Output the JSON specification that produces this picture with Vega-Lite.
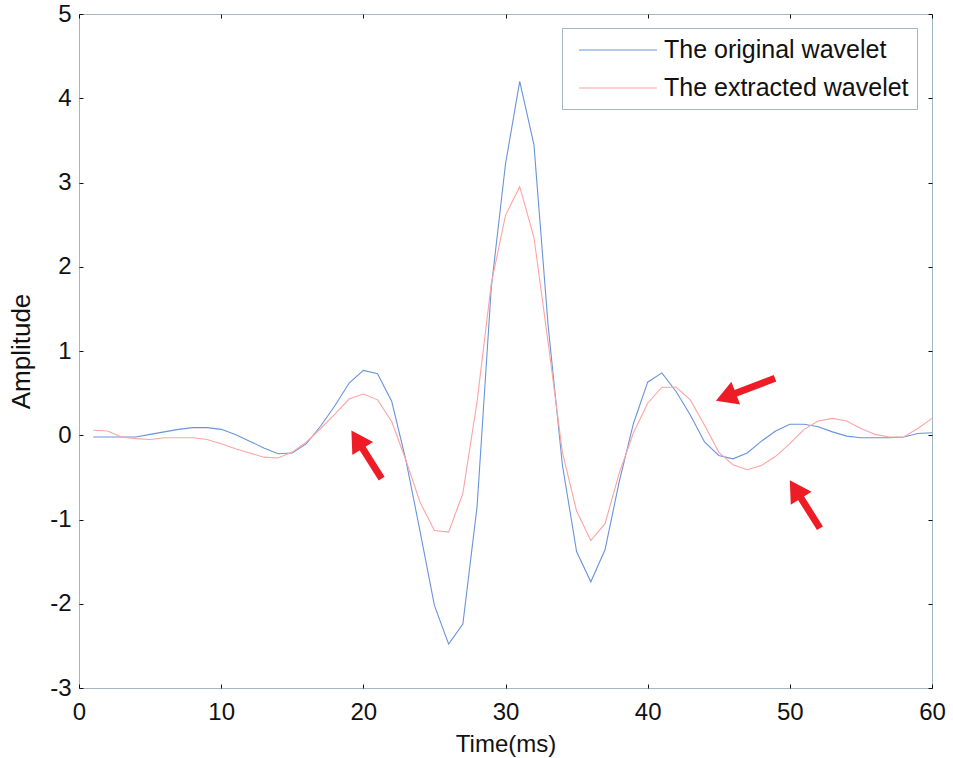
{
  "$schema": "https://vega.github.io/schema/vega-lite/v6.json",
  "width": 853,
  "height": 674,
  "autosize": {"type": "none"},
  "padding": {"left": 79, "top": 14, "right": 21, "bottom": 70},
  "background": "white",
  "config": {
    "font": "Liberation Sans",
    "view": {"stroke": "#a3b6c2", "strokeWidth": 1},
    "axis": {
      "grid": false,
      "domain": false,
      "tickColor": "#111111",
      "tickWidth": 1,
      "tickSize": -4,
      "labelFont": "Liberation Sans",
      "labelFontSize": 24,
      "labelColor": "#111111",
      "titleFont": "Liberation Sans",
      "titleFontSize": 24,
      "titleFontWeight": "normal",
      "titleColor": "#111111",
      "labelFlush": false,
      "labelOverlap": false
    },
    "legend": {
      "labelFont": "Liberation Sans",
      "labelFontSize": 25,
      "labelColor": "#111111",
      "labelLimit": 500
    }
  },
  "datasets": {
    "wave": [
      {"t": 1, "amp": -0.02, "series": "The original wavelet"},
      {"t": 2, "amp": -0.02, "series": "The original wavelet"},
      {"t": 3, "amp": -0.02, "series": "The original wavelet"},
      {"t": 4, "amp": -0.02, "series": "The original wavelet"},
      {"t": 5, "amp": 0.01, "series": "The original wavelet"},
      {"t": 6, "amp": 0.04, "series": "The original wavelet"},
      {"t": 7, "amp": 0.07, "series": "The original wavelet"},
      {"t": 8, "amp": 0.09, "series": "The original wavelet"},
      {"t": 9, "amp": 0.09, "series": "The original wavelet"},
      {"t": 10, "amp": 0.07, "series": "The original wavelet"},
      {"t": 11, "amp": 0.01, "series": "The original wavelet"},
      {"t": 12, "amp": -0.07, "series": "The original wavelet"},
      {"t": 13, "amp": -0.15, "series": "The original wavelet"},
      {"t": 14, "amp": -0.22, "series": "The original wavelet"},
      {"t": 15, "amp": -0.21, "series": "The original wavelet"},
      {"t": 16, "amp": -0.1, "series": "The original wavelet"},
      {"t": 17, "amp": 0.11, "series": "The original wavelet"},
      {"t": 18, "amp": 0.35, "series": "The original wavelet"},
      {"t": 19, "amp": 0.62, "series": "The original wavelet"},
      {"t": 20, "amp": 0.77, "series": "The original wavelet"},
      {"t": 21, "amp": 0.73, "series": "The original wavelet"},
      {"t": 22, "amp": 0.4, "series": "The original wavelet"},
      {"t": 23, "amp": -0.3, "series": "The original wavelet"},
      {"t": 24, "amp": -1.15, "series": "The original wavelet"},
      {"t": 25, "amp": -2.02, "series": "The original wavelet"},
      {"t": 26, "amp": -2.48, "series": "The original wavelet"},
      {"t": 27, "amp": -2.24, "series": "The original wavelet"},
      {"t": 28, "amp": -0.85, "series": "The original wavelet"},
      {"t": 29, "amp": 1.75, "series": "The original wavelet"},
      {"t": 30, "amp": 3.22, "series": "The original wavelet"},
      {"t": 31, "amp": 4.2, "series": "The original wavelet"},
      {"t": 32, "amp": 3.45, "series": "The original wavelet"},
      {"t": 33, "amp": 1.3, "series": "The original wavelet"},
      {"t": 34, "amp": -0.35, "series": "The original wavelet"},
      {"t": 35, "amp": -1.38, "series": "The original wavelet"},
      {"t": 36, "amp": -1.74, "series": "The original wavelet"},
      {"t": 37, "amp": -1.36, "series": "The original wavelet"},
      {"t": 38, "amp": -0.55, "series": "The original wavelet"},
      {"t": 39, "amp": 0.14, "series": "The original wavelet"},
      {"t": 40, "amp": 0.63, "series": "The original wavelet"},
      {"t": 41, "amp": 0.74, "series": "The original wavelet"},
      {"t": 42, "amp": 0.52, "series": "The original wavelet"},
      {"t": 43, "amp": 0.24, "series": "The original wavelet"},
      {"t": 44, "amp": -0.08, "series": "The original wavelet"},
      {"t": 45, "amp": -0.24, "series": "The original wavelet"},
      {"t": 46, "amp": -0.28, "series": "The original wavelet"},
      {"t": 47, "amp": -0.21, "series": "The original wavelet"},
      {"t": 48, "amp": -0.07, "series": "The original wavelet"},
      {"t": 49, "amp": 0.05, "series": "The original wavelet"},
      {"t": 50, "amp": 0.13, "series": "The original wavelet"},
      {"t": 51, "amp": 0.13, "series": "The original wavelet"},
      {"t": 52, "amp": 0.1, "series": "The original wavelet"},
      {"t": 53, "amp": 0.04, "series": "The original wavelet"},
      {"t": 54, "amp": -0.01, "series": "The original wavelet"},
      {"t": 55, "amp": -0.03, "series": "The original wavelet"},
      {"t": 56, "amp": -0.03, "series": "The original wavelet"},
      {"t": 57, "amp": -0.03, "series": "The original wavelet"},
      {"t": 58, "amp": -0.02, "series": "The original wavelet"},
      {"t": 59, "amp": 0.02, "series": "The original wavelet"},
      {"t": 60, "amp": 0.03, "series": "The original wavelet"},
      {"t": 1, "amp": 0.06, "series": "The extracted wavelet"},
      {"t": 2, "amp": 0.05, "series": "The extracted wavelet"},
      {"t": 3, "amp": -0.02, "series": "The extracted wavelet"},
      {"t": 4, "amp": -0.04, "series": "The extracted wavelet"},
      {"t": 5, "amp": -0.05, "series": "The extracted wavelet"},
      {"t": 6, "amp": -0.03, "series": "The extracted wavelet"},
      {"t": 7, "amp": -0.03, "series": "The extracted wavelet"},
      {"t": 8, "amp": -0.03, "series": "The extracted wavelet"},
      {"t": 9, "amp": -0.05, "series": "The extracted wavelet"},
      {"t": 10, "amp": -0.1, "series": "The extracted wavelet"},
      {"t": 11, "amp": -0.16, "series": "The extracted wavelet"},
      {"t": 12, "amp": -0.21, "series": "The extracted wavelet"},
      {"t": 13, "amp": -0.26, "series": "The extracted wavelet"},
      {"t": 14, "amp": -0.27, "series": "The extracted wavelet"},
      {"t": 15, "amp": -0.2, "series": "The extracted wavelet"},
      {"t": 16, "amp": -0.08, "series": "The extracted wavelet"},
      {"t": 17, "amp": 0.08, "series": "The extracted wavelet"},
      {"t": 18, "amp": 0.25, "series": "The extracted wavelet"},
      {"t": 19, "amp": 0.43, "series": "The extracted wavelet"},
      {"t": 20, "amp": 0.49, "series": "The extracted wavelet"},
      {"t": 21, "amp": 0.42, "series": "The extracted wavelet"},
      {"t": 22, "amp": 0.16, "series": "The extracted wavelet"},
      {"t": 23, "amp": -0.3, "series": "The extracted wavelet"},
      {"t": 24, "amp": -0.8, "series": "The extracted wavelet"},
      {"t": 25, "amp": -1.13, "series": "The extracted wavelet"},
      {"t": 26, "amp": -1.15, "series": "The extracted wavelet"},
      {"t": 27, "amp": -0.69, "series": "The extracted wavelet"},
      {"t": 28, "amp": 0.4, "series": "The extracted wavelet"},
      {"t": 29, "amp": 1.8, "series": "The extracted wavelet"},
      {"t": 30, "amp": 2.61, "series": "The extracted wavelet"},
      {"t": 31, "amp": 2.95, "series": "The extracted wavelet"},
      {"t": 32, "amp": 2.35, "series": "The extracted wavelet"},
      {"t": 33, "amp": 1.1, "series": "The extracted wavelet"},
      {"t": 34, "amp": -0.2, "series": "The extracted wavelet"},
      {"t": 35, "amp": -0.9, "series": "The extracted wavelet"},
      {"t": 36, "amp": -1.25, "series": "The extracted wavelet"},
      {"t": 37, "amp": -1.05, "series": "The extracted wavelet"},
      {"t": 38, "amp": -0.45, "series": "The extracted wavelet"},
      {"t": 39, "amp": 0.03, "series": "The extracted wavelet"},
      {"t": 40, "amp": 0.38, "series": "The extracted wavelet"},
      {"t": 41, "amp": 0.57, "series": "The extracted wavelet"},
      {"t": 42, "amp": 0.57, "series": "The extracted wavelet"},
      {"t": 43, "amp": 0.42, "series": "The extracted wavelet"},
      {"t": 44, "amp": 0.12, "series": "The extracted wavelet"},
      {"t": 45, "amp": -0.2, "series": "The extracted wavelet"},
      {"t": 46, "amp": -0.35, "series": "The extracted wavelet"},
      {"t": 47, "amp": -0.41, "series": "The extracted wavelet"},
      {"t": 48, "amp": -0.36, "series": "The extracted wavelet"},
      {"t": 49, "amp": -0.25, "series": "The extracted wavelet"},
      {"t": 50, "amp": -0.1, "series": "The extracted wavelet"},
      {"t": 51, "amp": 0.07, "series": "The extracted wavelet"},
      {"t": 52, "amp": 0.17, "series": "The extracted wavelet"},
      {"t": 53, "amp": 0.2, "series": "The extracted wavelet"},
      {"t": 54, "amp": 0.17, "series": "The extracted wavelet"},
      {"t": 55, "amp": 0.08, "series": "The extracted wavelet"},
      {"t": 56, "amp": 0.01, "series": "The extracted wavelet"},
      {"t": 57, "amp": -0.02, "series": "The extracted wavelet"},
      {"t": 58, "amp": -0.02, "series": "The extracted wavelet"},
      {"t": 59, "amp": 0.08, "series": "The extracted wavelet"},
      {"t": 60, "amp": 0.2, "series": "The extracted wavelet"}
    ],
    "arrows": [
      {"id": 1, "t": 21.29, "a": -0.514, "t2": 19.69, "a2": -0.087},
      {"id": 2, "t": 48.96, "a": 0.676, "t2": 45.73, "a2": 0.47},
      {"id": 3, "t": 52.12, "a": -1.104, "t2": 50.53, "a2": -0.677}
    ]
  },
  "layer": [
    {
      "data": {"name": "wave"},
      "mark": {"type": "line", "strokeWidth": 1.1},
      "encoding": {
        "x": {
          "field": "t", "type": "quantitative",
          "scale": {"domain": [0, 60], "nice": false, "zero": false},
          "axis": {"orient": "bottom", "title": "Time(ms)", "values": [0, 10, 20, 30, 40, 50, 60], "labelPadding": 16, "titlePadding": 8}
        },
        "y": {
          "field": "amp", "type": "quantitative",
          "scale": {"domain": [-3, 5], "nice": false, "zero": false},
          "axis": {"orient": "left", "title": "Amplitude", "titleFontSize": 26, "values": [-3, -2, -1, 0, 1, 2, 3, 4, 5], "labelExpr": "'' + datum.value", "labelPadding": 12, "titlePadding": 15}
        },
        "color": {
          "field": "series", "type": "nominal",
          "scale": {"domain": ["The original wavelet", "The extracted wavelet"], "range": ["#6a93dc", "#ffa3a3"]},
          "legend": {
            "title": null,
            "orient": "none",
            "legendX": 483,
            "legendY": 14,
            "padding": 8,
            "strokeColor": "#a3b6c2",
            "fillColor": "white",
            "symbolType": "M-3,0H3",
            "symbolSize": 676,
            "symbolStrokeWidth": 1.1,
            "symbolOffset": 34,
            "labelOffset": 32,
            "rowPadding": 11
          }
        },
        "detail": {"field": "series"}
      }
    },
    {
      "data": {"name": "arrows"},
      "mark": {"type": "rule", "color": "#ee1c24", "strokeWidth": 7},
      "encoding": {
        "x": {"field": "t", "type": "quantitative", "axis": {"orient": "top", "title": null, "labels": false, "values": [0, 10, 20, 30, 40, 50, 60]}},
        "y": {"field": "a", "type": "quantitative", "axis": {"orient": "right", "title": null, "labels": false, "values": [-3, -2, -1, 0, 1, 2, 3, 4, 5]}},
        "x2": {"field": "t2"},
        "y2": {"field": "a2"}
      }
    },
    {
      "data": {"name": "arrows"},
      "transform": [{"filter": "datum.id != 2"}],
      "mark": {"type": "point", "shape": "triangle", "filled": true, "color": "#ee1c24", "size": 600, "angle": 327.8, "opacity": 1},
      "encoding": {
        "x": {"field": "t2", "type": "quantitative", "axis": null},
        "y": {"field": "a2", "type": "quantitative", "axis": null}
      }
    },
    {
      "data": {"name": "arrows"},
      "transform": [{"filter": "datum.id == 2"}],
      "mark": {"type": "point", "shape": "triangle", "filled": true, "color": "#ee1c24", "size": 600, "angle": 249.3, "opacity": 1},
      "encoding": {
        "x": {"field": "t2", "type": "quantitative", "axis": null},
        "y": {"field": "a2", "type": "quantitative", "axis": null}
      }
    }
  ],
  "resolve": {"axis": {"x": "independent", "y": "independent"}}
}
